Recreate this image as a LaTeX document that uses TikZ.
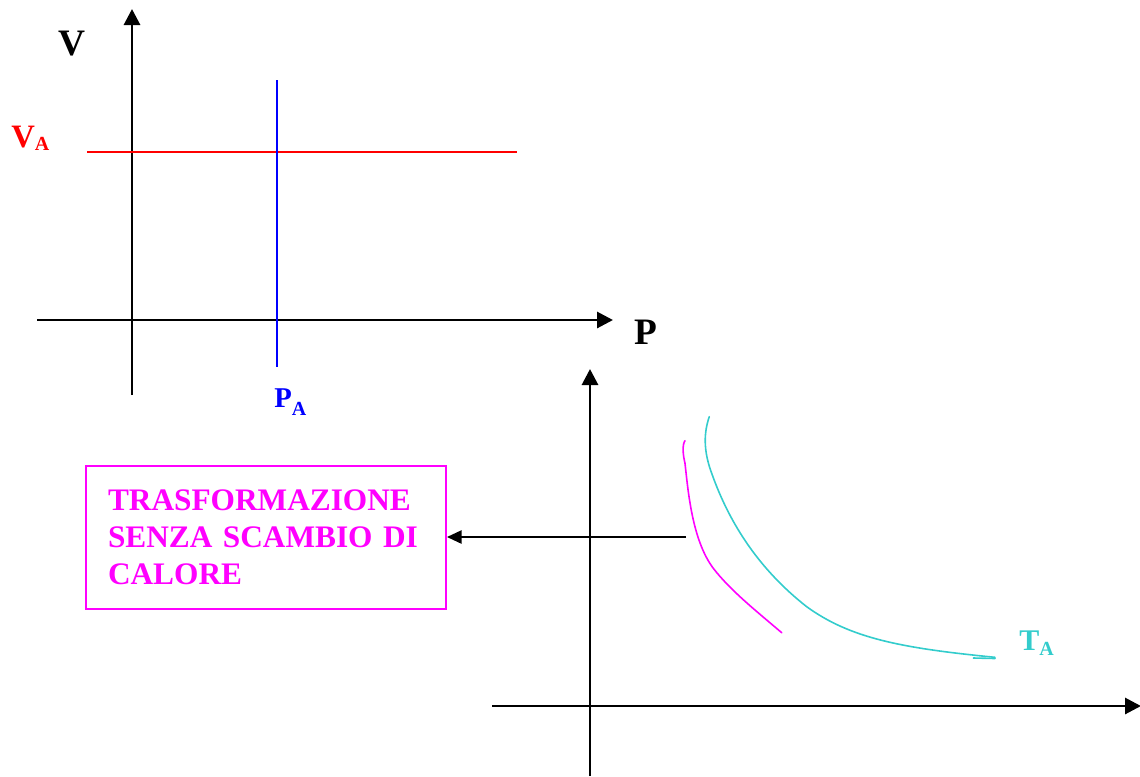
\documentclass[tikz,border=0pt]{standalone}
\usepackage{fontspec}
\setmainfont{Liberation Serif}
\usetikzlibrary{arrows.meta}
\definecolor{tcyan}{RGB}{51,204,204}
\definecolor{tmag}{RGB}{255,0,255}
\tikzset{
  axis/.style={line width=2.2pt,-{Triangle[length=12pt,width=12pt]}},
  lbl/.style={inner sep=0pt,anchor=base west,font=\bfseries\fontsize{28}{30}\selectfont},
  sublbl/.style={inner sep=0pt,anchor=base west},
  curve/.style={line width=1.2pt,line cap=round,line join=round},
}
\newcommand{\subA}[1]{\raisebox{#1}{\fontsize{15}{15}\selectfont A}}
\begin{document}
\begin{tikzpicture}[x=0.75pt,y=-0.75pt]
\useasboundingbox (0,0) rectangle (1140,776);
% upper diagram
\coordinate (v0) at (132,395);
\coordinate (v1) at (132,9);
\coordinate (p0) at (37,320);
\coordinate (p1) at (613,320);
\draw[axis] (v0) -- (v1);
\draw[axis] (p0) -- (p1);
\coordinate (r0) at (87,152);
\coordinate (r1) at (517,152);
\coordinate (b0) at (277,80);
\coordinate (b1) at (277,367);
\draw[red,line width=1.5pt] (r0) -- (r1);
\draw[blue,line width=1.5pt] (b0) -- (b1);
\node[lbl] (V) at (58,55) {V};
\node[lbl] (P) at (634,344) {P};
\node[sublbl,red,font=\bfseries\fontsize{24.5}{26}\selectfont] (VA) at (11,147) {V\subA{-2.25pt}};
\node[sublbl,blue,font=\bfseries\fontsize{21.5}{24}\selectfont] (PA) at (274,407) {P\subA{-6pt}};
% lower diagram
\coordinate (y0) at (590,776);
\coordinate (y1) at (590,369);
\coordinate (x0) at (492,706);
\coordinate (x1) at (1141,706);
\draw[axis] (y0) -- (y1);
\draw[axis] (x0) -- (x1);
\draw[tmag,curve] (685,440.7) .. controls (682,445) and (683,455) .. (685,463.3)
  .. controls (688,490) and (692,540) .. (713.3,568.3)
  .. controls (730,590) and (755,610) .. (781.7,632.7);
\draw[tcyan,curve] (709.3,416.7) .. controls (704,432) and (703,450) .. (711.7,473.3)
  .. controls (730,525) and (760,570) .. (806.7,606.7)
  .. controls (850,638) and (900,648) .. (995,657.3);
\draw[tcyan,curve] (973.3,658) -- (995,658.5);
\node[sublbl,tcyan,font=\bfseries\fontsize{22.5}{24}\selectfont] (TA) at (1019,650) {T\subA{-3.75pt}};
% box
\node[draw=tmag,line width=1.5pt,text=tmag,minimum width=270pt,minimum height=107.25pt,
      text width=237pt,inner xsep=16.5pt,align=left,anchor=north west,
      font=\bfseries\fontsize{23.5}{27.75}\selectfont] (box) at (85,465)
  {TRASFORMAZIONE\\SENZA SCAMBIO DI\\CALORE};
\coordinate (m) at (686,537);
\draw[line width=1.2pt,-{Triangle[length=11pt,width=10pt]}] (m) -- (box.east|-m);
\end{tikzpicture}
\end{document}
